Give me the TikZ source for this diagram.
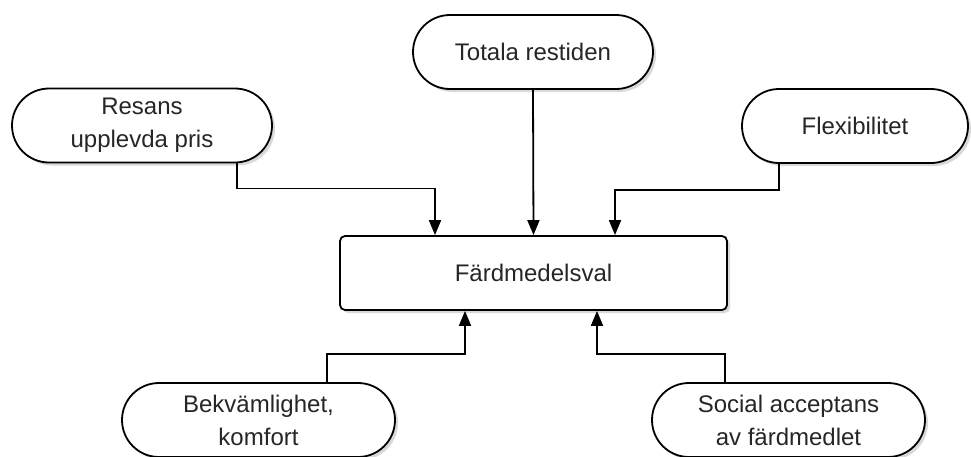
\documentclass[tikz,border=0pt]{standalone}
\usepackage{fontspec}
\setmainfont{Liberation Sans}
\usetikzlibrary{arrows.meta,shadows}

\begin{document}
\begin{tikzpicture}[x=0.5pt,y=-0.5pt]
        \tikzstyle{factor}=[draw, line width=0.9pt, fill=white, rounded corners=18.5pt,
          minimum height=37pt, align=center, text=black!85,
          font=\fontsize{12}{16.5}\selectfont,
          drop shadow={shadow xshift=1.5pt, shadow yshift=-1.5pt, opacity=0.3}]
        \tikzstyle{choice}=[factor, rounded corners=2.5pt]
        \tikzstyle{link}=[draw, line width=0.9pt, -{Triangle[length=7.5pt,width=6pt]}]
        \useasboundingbox (0,0) rectangle (971,456);
        % factors
        \node[factor, minimum width=120pt] (tot) at (533,52) {Totala restiden};
        \node[factor, minimum width=130pt] (res) at (142,125.5) {Resans\\upplevda pris};
        \node[factor, minimum width=113pt] (flex) at (855,126) {Flexibilitet};
        \node[factor, minimum width=136.5pt] (bek) at (258.5,420) {Bekvämlighet,\\komfort};
        \node[factor, minimum width=136.5pt] (soc) at (788.5,420) {Social acceptans\\av färdmedlet};
        % the choice
        \node[choice, minimum width=193.5pt] (fa) at (533.5,273) {Färdmedelsval};
        % links
        \draw[link] (tot.south) -- (fa.north);
        \draw[link] ([xshift=47.5pt]res.south) -- ++(0,25) -| ([xshift=-49.25pt]fa.north);
        \draw[link] ([xshift=-38pt]flex.south) -- ++(0,26) -| ([xshift=40.75pt]fa.north);
        \draw[link] ([xshift=34.25pt]bek.north) -- ++(0,-28) -| ([xshift=-34.25pt]fa.south);
        \draw[link] ([xshift=-31.75pt]soc.north) -- ++(0,-28) -| ([xshift=31.75pt]fa.south);
      \end{tikzpicture}
\end{document}
